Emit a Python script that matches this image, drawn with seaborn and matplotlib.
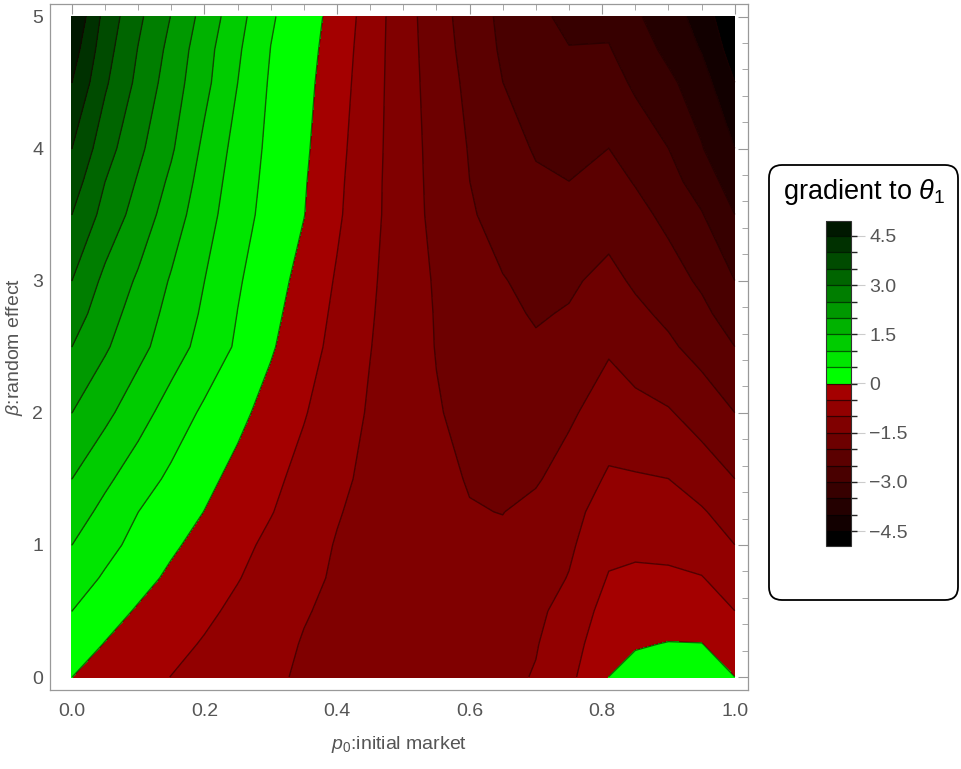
import numpy as np
import pandas as pd
import matplotlib
matplotlib.use("Agg")
import matplotlib.pyplot as plt
import seaborn as sns
from matplotlib.colors import ListedColormap, BoundaryNorm
from matplotlib.patches import FancyBboxPatch
from matplotlib.ticker import MultipleLocator

# grid: p0 (columns) x beta (rows)
p0 = [0.0, 0.05, 0.10, 0.15, 0.20, 0.25, 0.30, 0.35, 0.40, 0.45, 0.50,
      0.55, 0.60, 0.65, 0.70, 0.75, 0.81, 0.85, 0.90, 0.95, 1.0]
beta = [0.0, 0.25, 0.5, 0.75, 1.0, 1.25, 1.5, 2.0, 2.5, 2.75, 3.0,
        3.5, 3.75, 4.0, 4.5, 4.75, 5.0]

grad_b000 = [0, -0.17, -0.34, -0.51, -0.65, -0.79, -0.93, -1.06, -1.16, -1.24, -1.28,
             -1.27, -1.22, -1.12, -0.97, -0.62, 0.0, 0.2, 0.33, 0.28, 0.0]
grad_b025 = [0.25, -0.02, -0.2, -0.37, -0.54, -0.7, -0.86, -1.03, -1.14, -1.23, -1.29,
             -1.3, -1.26, -1.16, -1.03, -0.72, -0.156, -0.05, 0.02, 0.01, -0.25]
grad_b050 = [0.5, 0.2, -0.05, -0.23, -0.41, -0.6, -0.79, -0.97, -1.1, -1.22, -1.3,
             -1.33, -1.3, -1.22, -1.1, -0.83, -0.31, -0.25, -0.28, -0.33, -0.5]
grad_b075 = [0.75, 0.44, 0.16, -0.09, -0.28, -0.48, -0.69, -0.89, -1.06, -1.2, -1.3,
             -1.37, -1.39, -1.35, -1.22, -0.98, -0.47, -0.43, -0.44, -0.48, -0.75]
grad_b100 = [1.0, 0.65, 0.35, 0.07, -0.16, -0.38, -0.6, -0.82, -1.03, -1.18, -1.3,
             -1.39, -1.44, -1.42, -1.3, -1.08, -0.625, -0.58, -0.6, -0.75, -1.0]
grad_b125 = [1.25, 0.86, 0.5, 0.24, -0.01, -0.25, -0.48, -0.72, -0.97, -1.15, -1.28,
             -1.39, -1.48, -1.51, -1.38, -1.16, -0.78, -0.78, -0.82, -0.95, -1.25]
grad_b150 = [1.5, 1.1, 0.73, 0.4, 0.12, -0.14, -0.39, -0.65, -0.91, -1.1, -1.25,
             -1.39, -1.53, -1.6, -1.55, -1.3, -0.94, -0.96, -1.0, -1.24, -1.5]
grad_b200 = [2.0, 1.62, 1.2, 0.78, 0.41, 0.12, -0.18, -0.47, -0.77, -1.05, -1.26,
             -1.47, -1.62, -1.74, -1.76, -1.58, -1.25, -1.35, -1.46, -1.7, -2.0]
grad_b250 = [2.5, 2.06, 1.65, 1.23, 0.82, 0.43, 0.05, -0.3, -0.65, -0.99, -1.25,
             -1.52, -1.7, -1.84, -1.95, -1.85, -1.56, -1.75, -1.92, -2.18, -2.5]
grad_b275 = [2.75, 2.22, 1.78, 1.34, 0.92, 0.49, 0.13, -0.24, -0.6, -0.96, -1.26,
             -1.53, -1.73, -1.91, -2.04, -1.97, -1.72, -1.9, -2.1, -2.38, -2.75]
grad_b300 = [3.0, 2.38, 1.93, 1.45, 1.0, 0.55, 0.2, -0.16, -0.55, -0.93, -1.26,
             -1.55, -1.77, -1.98, -2.12, -2.07, -1.875, -2.07, -2.3, -2.58, -3.0]
grad_b350 = [3.5, 2.83, 2.3, 1.75, 1.2, 0.7, 0.32, 0.01, -0.43, -0.86, -1.27,
             -1.63, -1.95, -2.18, -2.33, -2.4, -2.19, -2.36, -2.62, -2.97, -3.5]
grad_b375 = [3.75, 3.0, 2.45, 1.9, 1.29, 0.76, 0.35, 0.04, -0.4, -0.85, -1.27,
             -1.65, -2.0, -2.26, -2.44, -2.5, -2.34, -2.53, -2.83, -3.22, -3.75]
grad_b400 = [4.0, 3.21, 2.61, 2.06, 1.39, 0.83, 0.38, 0.08, -0.36, -0.83, -1.27,
             -1.67, -2.03, -2.32, -2.54, -2.62, -2.5, -2.72, -3.0, -3.47, -4.0]
grad_b450 = [4.5, 3.57, 2.88, 2.25, 1.63, 1.0, 0.44, 0.14, -0.28, -0.79, -1.28,
             -1.72, -2.12, -2.5, -2.75, -2.9, -2.81, -3.08, -3.4, -3.77, -4.5]
grad_b475 = [4.75, 3.7, 2.98, 2.35, 1.69, 1.07, 0.49, 0.18, -0.23, -0.77, -1.28,
             -1.76, -2.18, -2.57, -2.84, -2.99, -2.97, -3.26, -3.62, -4.03, -4.75]
grad_b500 = [5.0, 3.83, 3.1, 2.48, 1.82, 1.18, 0.55, 0.22, -0.17, -0.74, -1.29,
             -1.79, -2.23, -2.61, -2.93, -3.08, -3.125, -3.43, -3.78, -4.19, -5.0]

cbar_ticks = [4.5, 3.0, 1.5, 0, -1.5, -3.0, -4.5]
cbar_labels = ["4.5", "3.0", "1.5", "0", "\u22121.5", "\u22123.0", "\u22124.5"]

# build table
df = pd.DataFrame([grad_b000, grad_b025, grad_b050, grad_b075, grad_b100, grad_b125,
                   grad_b150, grad_b200, grad_b250, grad_b275, grad_b300, grad_b350,
                   grad_b375, grad_b400, grad_b450, grad_b475, grad_b500],
                  index=beta, columns=p0)

sns.set_theme(style="white")
plt.rcParams['font.family'] = ['Liberation Sans', 'DejaVu Sans']
plt.rcParams['mathtext.fontset'] = 'custom'
plt.rcParams['mathtext.rm'] = 'Liberation Sans'
plt.rcParams['mathtext.it'] = 'Liberation Sans:italic'

# contour levels every 0.5 (tiny offset so grid values on a level don't leave gaps)
levels = np.arange(-5, 5.01, 0.5) - 0.002
levels[0], levels[-1] = -5.05, 5.05
reds = sns.blend_palette(["#000000", "#a40000"], 10)
greens = sns.blend_palette(["#00ff00", "#001800"], 10)
cmap = ListedColormap(list(reds) + list(greens))
norm = BoundaryNorm(levels, cmap.N)

fig = plt.figure(figsize=(9.61, 7.69), dpi=100)
ax = fig.add_axes([50 / 961, 79 / 769, 698 / 961, 686 / 769])

cf = ax.contourf(df.columns.values, df.index.values, df.values,
                 levels=levels, cmap=cmap, norm=norm)
ax.contour(df.columns.values, df.index.values, df.values,
           levels=levels[1:-1], colors='#1a0000', linewidths=1.0,
           linestyles='solid', alpha=0.6)

ax.set_xlim(-0.033, 1.02)
ax.set_ylim(-0.098, 5.095)
ax.xaxis.set_minor_locator(MultipleLocator(0.05))
ax.yaxis.set_major_locator(MultipleLocator(1))
ax.yaxis.set_minor_locator(MultipleLocator(0.2))
ax.set_xticks([0, 0.2, 0.4, 0.6, 0.8, 1.0])
ax.set_xticklabels(["0.0", "0.2", "0.4", "0.6", "0.8", "1.0"])
ax.tick_params(which='both', direction='in', top=True, right=True,
               color='#999999', labelcolor='#555555', labelsize=14)
ax.tick_params(which='major', length=7, width=0.8)
ax.tick_params(which='minor', length=4, width=0.6)
ax.tick_params(axis='x', pad=9)
ax.tick_params(axis='y', pad=5)
for s in ax.spines.values():
    s.set_color('#999999')
    s.set_linewidth(0.9)

ax.set_xlabel(r"$p_0$:initial market", fontsize=14, color='#555555')
ax.set_ylabel(r"$\beta$:random effect", fontsize=14, color='#555555')
ax.xaxis.set_label_coords(0.5, -0.064)
ax.yaxis.set_label_coords(-0.036, 0.5)

# legend box behind the colorbar
box = FancyBboxPatch((7.69, 1.69), 1.89, 4.35,
                     boxstyle="round,pad=0,rounding_size=0.13",
                     transform=fig.dpi_scale_trans, facecolor='white',
                     edgecolor='black', linewidth=1.3, zorder=-1)
fig.add_artist(box)
fig.text(864 / 961, 1 - 192 / 769, r"gradient to $\theta_1$", ha='center',
         va='center', fontsize=19.5, color='black')

cax = fig.add_axes([826 / 961, 223 / 769, 25 / 961, 325 / 769])
cax.set_zorder(2)
cbar = fig.colorbar(cf, cax=cax, drawedges=True)
cbar.set_ticks(cbar_ticks)
cbar.ax.set_yticklabels(cbar_labels)
cax.set_ylim(-5, 5)
cbar.dividers.set_color('black')
cbar.dividers.set_linewidth(0.9)
cbar.dividers.set_alpha(0.6)
cbar.outline.set_edgecolor('#333333')
cbar.outline.set_linewidth(0.8)
cax.tick_params(length=10, width=0.8, color='#cccccc', labelcolor='#555555',
                labelsize=14, pad=3)

fig.savefig("out.png", dpi=100)
